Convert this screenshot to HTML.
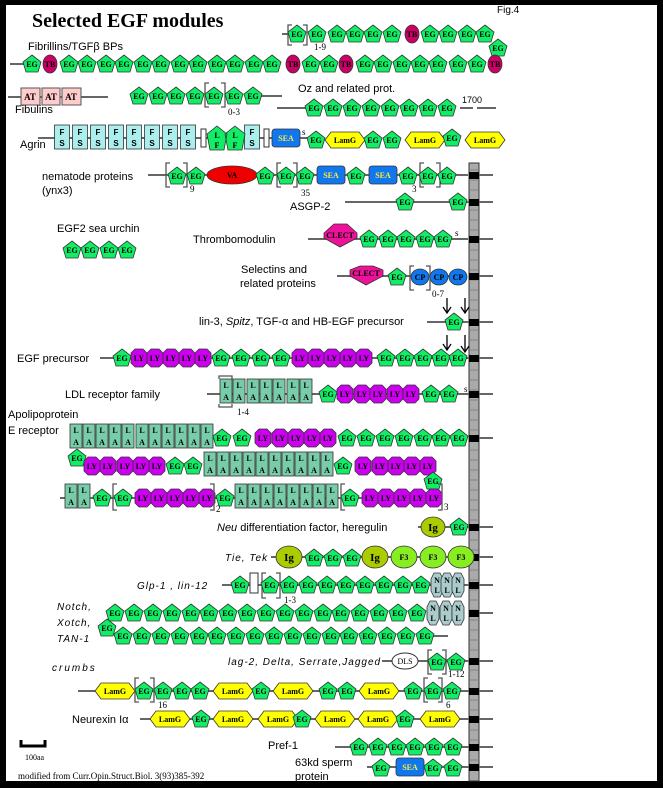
<!DOCTYPE html>
<html><head><meta charset="utf-8"><style>
html,body{margin:0;padding:0;background:#000;}
svg{display:block}
.m{font:bold 8px "Liberation Serif",serif;text-anchor:middle;fill:#000}
.l{font:11px "Liberation Sans",sans-serif;fill:#000}
.i{font:italic 10px "Liberation Sans",sans-serif;fill:#000;letter-spacing:1px}
.n{font:9px "Liberation Serif",serif;fill:#000}
.ln{stroke:#666;stroke-width:2;fill:none}
.br{stroke:#555;stroke-width:1.3;fill:none}
</style></head><body>
<svg width="663" height="788" viewBox="0 0 663 788" xmlns="http://www.w3.org/2000/svg">
<defs>
<path id="e" d="M0,-9L9,-2L6,8L-6,8L-9,-2Z" fill="#11ee66" stroke="#333" stroke-width="0.8"/>
<path id="y" d="M-4,-9L4,-9L8,-5L8,5L4,9L-4,9L-8,5L-8,-5Z" fill="#cc00ee" stroke="#333" stroke-width="0.8"/>
<rect id="a" x="-6" y="-12" width="12" height="24" fill="#77ccaa" stroke="#333" stroke-width="0.8"/>
<path id="g" d="M-20,0L-14,-8L14,-8L20,0L14,8L-14,8Z" fill="#ffff00" stroke="#333" stroke-width="0.8"/>
<ellipse id="t" rx="7" ry="9" fill="#cc0066" stroke="#333" stroke-width="0.8"/>
<rect id="s" x="-14" y="-9" width="28" height="18" rx="3" fill="#1177ee" stroke="#333" stroke-width="0.8"/>
<rect id="f" x="-7.5" y="-12" width="15" height="24" fill="#aaeeee" stroke="#333" stroke-width="0.8"/>
<path id="nl" d="M-3,-12L3,-12L6,-6L6,6L3,12L-3,12L-6,6L-6,-6Z" fill="#aacccc" stroke="#333" stroke-width="0.8"/>
</defs>
<rect x="6" y="5" width="651" height="776" fill="#fff"/>
<text x="32" y="27" style="font:bold 20px 'Liberation Serif',serif">Selected EGF modules</text>
<text x="497" y="13" class="l" style="font-size:10px">Fig.4</text>

<!-- membrane -->
<rect x="469" y="163" width="10" height="618" fill="#aaa" stroke="#333"/>
<g stroke="#777" stroke-width="0.7">
<path d="M469,170h10M469,180h10M469,190h10M469,200h10M469,210h10M469,220h10M469,230h10M469,240h10M469,250h10M469,260h10M469,270h10M469,280h10M469,290h10M469,300h10M469,310h10M469,320h10M469,330h10M469,340h10M469,350h10M469,360h10M469,370h10M469,380h10M469,390h10M469,400h10M469,410h10M469,420h10M469,430h10M469,440h10M469,450h10M469,460h10M469,470h10M469,480h10M469,490h10M469,500h10M469,510h10M469,520h10M469,530h10M469,540h10M469,550h10M469,560h10M469,570h10M469,580h10M469,590h10M469,600h10M469,610h10M469,620h10M469,630h10M469,640h10M469,650h10M469,660h10M469,670h10M469,680h10M469,690h10M469,700h10M469,710h10M469,720h10M469,730h10M469,740h10M469,750h10M469,760h10M469,770h10"/>
</g>
<g fill="#000">
<rect x="469" y="172" width="10" height="7"/><rect x="469" y="199" width="10" height="7"/><rect x="469" y="236" width="10" height="7"/><rect x="469" y="273" width="10" height="7"/><rect x="469" y="319" width="10" height="7"/><rect x="469" y="355" width="10" height="7"/><rect x="469" y="391" width="10" height="7"/><rect x="469" y="435" width="10" height="7"/><rect x="469" y="524" width="10" height="7"/><rect x="469" y="554" width="10" height="7"/><rect x="469" y="582" width="10" height="7"/><rect x="469" y="610" width="10" height="7"/><rect x="469" y="658" width="10" height="7"/><rect x="469" y="688" width="10" height="7"/><rect x="469" y="716" width="10" height="7"/><rect x="469" y="744" width="10" height="7"/><rect x="469" y="764" width="10" height="7"/>
</g>
<g class="ln">
<path d="M479,175h14M479,202h14M479,239h14M479,276h14M479,322h14M479,358h14M479,394h14M479,438h14M479,527h14M479,557h14M479,585h14M479,613h14M479,661h14M479,691h14M479,719h14M479,747h14M479,767h14"/>
<path d="M282,34h10M10,64h18M8,97h100M260,96h22M277,108h30M460,108h13M477,108h19M38,138h20M148,175h320M345,202h124M308,239h160M337,276h130M427,322h42M100,358h369M207,394h262M60,498h10M418,527h51M271,557h198M222,585h247M425,636h23M382,661h87M78,691h391M140,719h329M335,747h134M367,767h102"/>
</g>

<!-- Row1 fibrillins -->
<text x="28" y="50" class="l">Fibrillins/TGFβ BPs</text>
<path class="br" d="M292,25h-4v20h4M303,25h4v20h-4"/><text x="314" y="50" class="n">1-9</text>
<g>
<use href="#e" x="297" y="34"/><use href="#e" x="317" y="34"/><use href="#e" x="337" y="34"/><use href="#e" x="355" y="34"/><use href="#e" x="373" y="34"/><use href="#e" x="392" y="34"/><use href="#t" x="412" y="34"/><use href="#e" x="430" y="34"/><use href="#e" x="448" y="34"/><use href="#e" x="467" y="34"/><use href="#e" x="485" y="34"/><use href="#e" x="498" y="48"/>
</g>
<g class="m"><text x="297" y="37">EG</text><text x="317" y="37">EG</text><text x="337" y="37">EG</text><text x="355" y="37">EG</text><text x="373" y="37">EG</text><text x="392" y="37">EG</text><text x="412" y="37">TB</text><text x="430" y="37">EG</text><text x="448" y="37">EG</text><text x="467" y="37">EG</text><text x="485" y="37">EG</text><text x="498" y="51">EG</text></g>
<g>
<use href="#e" x="32" y="64"/><use href="#t" x="50" y="64"/><use href="#e" x="69" y="64"/><use href="#e" x="87" y="64"/><use href="#e" x="106" y="64"/><use href="#e" x="124" y="64"/><use href="#e" x="143" y="64"/><use href="#e" x="161" y="64"/><use href="#e" x="180" y="64"/><use href="#e" x="198" y="64"/><use href="#e" x="217" y="64"/><use href="#e" x="235" y="64"/><use href="#e" x="254" y="64"/><use href="#e" x="272" y="64"/><use href="#t" x="293" y="64"/><use href="#e" x="311" y="64"/><use href="#e" x="329" y="64"/><use href="#t" x="346" y="64"/><use href="#e" x="365" y="64"/><use href="#e" x="383" y="64"/><use href="#e" x="402" y="64"/><use href="#e" x="420" y="64"/><use href="#e" x="438" y="64"/><use href="#e" x="458" y="64"/><use href="#e" x="477" y="64"/><use href="#t" x="495" y="64"/>
</g>
<g class="m"><text x="32" y="67">EG</text><text x="50" y="67">TB</text><text x="69" y="67">EG</text><text x="87" y="67">EG</text><text x="106" y="67">EG</text><text x="124" y="67">EG</text><text x="143" y="67">EG</text><text x="161" y="67">EG</text><text x="180" y="67">EG</text><text x="198" y="67">EG</text><text x="217" y="67">EG</text><text x="235" y="67">EG</text><text x="254" y="67">EG</text><text x="272" y="67">EG</text><text x="293" y="67">TB</text><text x="311" y="67">EG</text><text x="329" y="67">EG</text><text x="346" y="67">TB</text><text x="365" y="67">EG</text><text x="383" y="67">EG</text><text x="402" y="67">EG</text><text x="420" y="67">EG</text><text x="438" y="67">EG</text><text x="458" y="67">EG</text><text x="477" y="67">EG</text><text x="495" y="67">TB</text></g>

<!-- Fibulins -->
<g fill="#ffcccc" stroke="#555"><rect x="21" y="88" width="19" height="17"/><rect x="42" y="88" width="18" height="17"/><rect x="62" y="88" width="19" height="17"/></g>
<g class="m" style="font-size:9px"><text x="30" y="100">AT</text><text x="51" y="100">AT</text><text x="71" y="100">AT</text></g>
<text x="15" y="113" class="l">Fibulins</text>
<path class="br" d="M209,83h-4v24h4M221,83h4v24h-4"/><text x="228" y="115" class="n">0-3</text>
<g><use href="#e" x="139" y="96"/><use href="#e" x="158" y="96"/><use href="#e" x="176" y="96"/><use href="#e" x="195" y="96"/><use href="#e" x="214" y="96"/><use href="#e" x="234" y="96"/><use href="#e" x="253" y="96"/></g>
<g class="m"><text x="139" y="99">EG</text><text x="158" y="99">EG</text><text x="176" y="99">EG</text><text x="195" y="99">EG</text><text x="214" y="99">EG</text><text x="234" y="99">EG</text><text x="253" y="99">EG</text></g>
<text x="298" y="92" class="l">Oz and related prot.</text>
<text x="462" y="103" class="n" style="font-family:'Liberation Sans',sans-serif">1700</text>
<g><use href="#e" x="314" y="108"/><use href="#e" x="333" y="108"/><use href="#e" x="352" y="108"/><use href="#e" x="371" y="108"/><use href="#e" x="390" y="108"/><use href="#e" x="409" y="108"/><use href="#e" x="428" y="108"/><use href="#e" x="447" y="108"/></g>
<g class="m"><text x="314" y="111">EG</text><text x="333" y="111">EG</text><text x="352" y="111">EG</text><text x="371" y="111">EG</text><text x="390" y="111">EG</text><text x="409" y="111">EG</text><text x="428" y="111">EG</text><text x="447" y="111">EG</text></g>

<!-- Agrin -->
<text x="20" y="148" class="l">Agrin</text>
<path class="ln" d="M55,138h260"/>
<g><use href="#f" x="62" y="137"/><use href="#f" x="80" y="137"/><use href="#f" x="98" y="137"/><use href="#f" x="116" y="137"/><use href="#f" x="134" y="137"/><use href="#f" x="152" y="137"/><use href="#f" x="170" y="137"/><use href="#f" x="188" y="137"/><use href="#f" x="252" y="137"/></g>
<g class="m" style="font-family:'Liberation Sans',sans-serif"><text x="62" y="135">F</text><text x="62" y="146">S</text><text x="80" y="135">F</text><text x="80" y="146">S</text><text x="98" y="135">F</text><text x="98" y="146">S</text><text x="116" y="135">F</text><text x="116" y="146">S</text><text x="134" y="135">F</text><text x="134" y="146">S</text><text x="152" y="135">F</text><text x="152" y="146">S</text><text x="170" y="135">F</text><text x="170" y="146">S</text><text x="188" y="135">F</text><text x="188" y="146">S</text><text x="252" y="135">F</text><text x="252" y="146">S</text></g>
<g fill="#fff" stroke="#333"><rect x="201" y="129" width="5" height="18"/><rect x="264" y="129" width="5" height="18"/></g>
<path d="M217,126L227,134L224,150L210,150L207,134Z M235,126L245,134L242,150L228,150L225,134Z" fill="#11ee66" stroke="#333" stroke-width="0.8"/>
<g class="m"><text x="217" y="138">L</text><text x="217" y="148">F</text><text x="235" y="138">L</text><text x="235" y="148">F</text></g>
<use href="#s" x="286" y="138"/><text x="286" y="141" class="m" style="fill:#ffee33">SEA</text>
<text x="302" y="135" class="n">s</text>
<g><use href="#e" x="316" y="140"/><use href="#g" x="345" y="140"/><use href="#e" x="373" y="140"/><use href="#e" x="392" y="140"/><use href="#g" x="425" y="140"/><use href="#e" x="452" y="138"/><use href="#g" x="485" y="140"/></g>
<g class="m"><text x="316" y="143">EG</text><text x="345" y="143">LamG</text><text x="373" y="143">EG</text><text x="392" y="143">EG</text><text x="425" y="143">LamG</text><text x="452" y="141">EG</text><text x="485" y="143">LamG</text></g>

<!-- nematode -->
<text x="42" y="180" class="l">nematode proteins</text><text x="42" y="194" class="l">(ynx3)</text>
<path class="br" d="M170,163h-4v24h4M183,163h4v24h-4M281,163h-4v24h4M293,163h4v24h-4M424,163h-4v24h4M436,163h4v24h-4"/>
<text x="190" y="192" class="n">9</text><text x="301" y="196" class="n">35</text><text x="412" y="192" class="n">3</text>
<ellipse cx="232" cy="175" rx="25" ry="9" fill="#ee0000" stroke="#333" stroke-width="0.8"/><text x="232" y="178" class="m">VA</text>
<use href="#s" x="331" y="175"/><text x="331" y="178" class="m" style="fill:#ffee33">SEA</text>
<use href="#s" x="383" y="175"/><text x="383" y="178" class="m" style="fill:#ffee33">SEA</text>
<g><use href="#e" x="177" y="176"/><use href="#e" x="196" y="176"/><use href="#e" x="265" y="176"/><use href="#e" x="286" y="176"/><use href="#e" x="305" y="176"/><use href="#e" x="356" y="176"/><use href="#e" x="408" y="176"/><use href="#e" x="428" y="176"/><use href="#e" x="447" y="176"/></g>
<g class="m"><text x="177" y="179">EG</text><text x="196" y="179">EG</text><text x="265" y="179">EG</text><text x="286" y="179">EG</text><text x="305" y="179">EG</text><text x="356" y="179">EG</text><text x="408" y="179">EG</text><text x="428" y="179">EG</text><text x="447" y="179">EG</text></g>
<text x="290" y="210" class="l">ASGP-2</text>
<use href="#e" x="405" y="202"/><use href="#e" x="458" y="202"/>
<g class="m"><text x="405" y="205">EG</text><text x="458" y="205">EG</text></g>

<text x="57" y="232" class="l">EGF2 sea urchin</text>
<g><use href="#e" x="72" y="250"/><use href="#e" x="90" y="250"/><use href="#e" x="109" y="250"/><use href="#e" x="127" y="250"/></g>
<g class="m"><text x="72" y="253">EG</text><text x="90" y="253">EG</text><text x="109" y="253">EG</text><text x="127" y="253">EG</text></g>

<text x="193" y="243" class="l">Thrombomodulin</text>
<path d="M324,233L334,224L347,224L357,233L357,238L340,247L324,238Z" fill="#ee1199" stroke="#333" stroke-width="0.8"/><text x="340" y="238" class="m">CLECT</text>
<g><use href="#e" x="369" y="239"/><use href="#e" x="388" y="239"/><use href="#e" x="406" y="239"/><use href="#e" x="425" y="239"/><use href="#e" x="443" y="239"/></g>
<g class="m"><text x="369" y="242">EG</text><text x="388" y="242">EG</text><text x="406" y="242">EG</text><text x="425" y="242">EG</text><text x="443" y="242">EG</text></g>
<text x="455" y="236" class="n">s</text>

<text x="241" y="273" class="l">Selectins and</text><text x="240" y="287" class="l">related proteins</text>
<path d="M350,270L360,266L373,266L383,270L383,276L366,285L350,276Z" fill="#ee1199" stroke="#333" stroke-width="0.8"/><text x="366" y="276" class="m">CLECT</text>
<use href="#e" x="397" y="277"/><text x="397" y="280" class="m">EG</text>
<g fill="#1177ee" stroke="#333" stroke-width="0.8"><ellipse cx="420" cy="277" rx="9" ry="8"/><ellipse cx="439" cy="277" rx="9" ry="8"/><ellipse cx="458" cy="277" rx="9" ry="8"/></g>
<g class="m"><text x="420" y="280">CP</text><text x="439" y="280">CP</text><text x="458" y="280">CP</text></g>
<path class="br" d="M414,266h-4v24h4M426,266h4v24h-4"/><text x="432" y="297" class="n">0-7</text>

<text x="199" y="325" class="l">lin-3, <tspan font-style="italic">Spitz</tspan>, TGF-α and HB-EGF precursor</text>
<use href="#e" x="454" y="322"/><text x="454" y="325" class="m">EG</text>
<g stroke="#000" stroke-width="1.3" fill="none"><path d="M447,298v14M443,307l4,6l4,-6M465,298v14M461,307l4,6l4,-6M447,335v14M443,344l4,6l4,-6M465,335v16M461,346l4,6l4,-6"/></g>

<!-- EGF precursor -->
<text x="17" y="362" class="l">EGF precursor</text>
<g><use href="#e" x="122" y="358"/><use href="#y" x="139" y="358"/><use href="#y" x="155" y="358"/><use href="#y" x="171" y="358"/><use href="#y" x="187" y="358"/><use href="#y" x="203" y="358"/><use href="#e" x="221" y="358"/><use href="#e" x="241" y="358"/><use href="#e" x="261" y="358"/><use href="#e" x="281" y="358"/><use href="#y" x="300" y="358"/><use href="#y" x="316" y="358"/><use href="#y" x="332" y="358"/><use href="#y" x="348" y="358"/><use href="#y" x="364" y="358"/><use href="#e" x="386" y="358"/><use href="#e" x="405" y="358"/><use href="#e" x="423" y="358"/><use href="#e" x="441" y="358"/><use href="#e" x="458" y="358"/></g>
<g class="m"><text x="122" y="361">EG</text><text x="139" y="361">LY</text><text x="155" y="361">LY</text><text x="171" y="361">LY</text><text x="187" y="361">LY</text><text x="203" y="361">LY</text><text x="221" y="361">EG</text><text x="241" y="361">EG</text><text x="261" y="361">EG</text><text x="281" y="361">EG</text><text x="300" y="361">LY</text><text x="316" y="361">LY</text><text x="332" y="361">LY</text><text x="348" y="361">LY</text><text x="364" y="361">LY</text><text x="386" y="361">EG</text><text x="405" y="361">EG</text><text x="423" y="361">EG</text><text x="441" y="361">EG</text><text x="458" y="361">EG</text></g>

<!-- LDL -->
<text x="65" y="398" class="l">LDL receptor family</text>
<g><use href="#a" x="226" y="391"/><use href="#a" x="239" y="391"/><use href="#a" x="253" y="391"/><use href="#a" x="266" y="391"/><use href="#a" x="279" y="391"/><use href="#a" x="293" y="391"/><use href="#a" x="306" y="391"/></g>
<g class="m"><text x="226" y="388">L</text><text x="226" y="400">A</text><text x="239" y="388">L</text><text x="239" y="400">A</text><text x="253" y="388">L</text><text x="253" y="400">A</text><text x="266" y="388">L</text><text x="266" y="400">A</text><text x="279" y="388">L</text><text x="279" y="400">A</text><text x="293" y="388">L</text><text x="293" y="400">A</text><text x="306" y="388">L</text><text x="306" y="400">A</text></g>
<path class="br" d="M219,379v-3h13v3M219,404v3h13v-3"/><text x="237" y="415" class="n">1-4</text>
<g><use href="#e" x="328" y="394"/><use href="#y" x="345" y="394"/><use href="#y" x="362" y="394"/><use href="#y" x="378" y="394"/><use href="#y" x="395" y="394"/><use href="#y" x="411" y="394"/><use href="#e" x="431" y="394"/><use href="#e" x="449" y="394"/></g>
<g class="m"><text x="328" y="397">EG</text><text x="345" y="397">LY</text><text x="362" y="397">LY</text><text x="378" y="397">LY</text><text x="395" y="397">LY</text><text x="411" y="397">LY</text><text x="431" y="397">EG</text><text x="449" y="397">EG</text></g>
<text x="464" y="392" class="n">s</text>

<!-- ApoE -->
<text x="8" y="418" class="l">Apolipoprotein</text><text x="8" y="434" class="l">E receptor</text>
<g><use href="#a" x="76" y="436"/><use href="#a" x="89" y="436"/><use href="#a" x="102" y="436"/><use href="#a" x="115" y="436"/><use href="#a" x="128" y="436"/><use href="#a" x="142" y="436"/><use href="#a" x="155" y="436"/><use href="#a" x="168" y="436"/><use href="#a" x="181" y="436"/><use href="#a" x="194" y="436"/><use href="#a" x="207" y="436"/></g>
<g class="m"><text x="76" y="433">L</text><text x="76" y="445">A</text><text x="89" y="433">L</text><text x="89" y="445">A</text><text x="102" y="433">L</text><text x="102" y="445">A</text><text x="115" y="433">L</text><text x="115" y="445">A</text><text x="128" y="433">L</text><text x="128" y="445">A</text><text x="142" y="433">L</text><text x="142" y="445">A</text><text x="155" y="433">L</text><text x="155" y="445">A</text><text x="168" y="433">L</text><text x="168" y="445">A</text><text x="181" y="433">L</text><text x="181" y="445">A</text><text x="194" y="433">L</text><text x="194" y="445">A</text><text x="207" y="433">L</text><text x="207" y="445">A</text></g>
<g><use href="#e" x="222" y="438"/><use href="#e" x="242" y="438"/><use href="#y" x="263" y="438"/><use href="#y" x="280" y="438"/><use href="#y" x="296" y="438"/><use href="#y" x="312" y="438"/><use href="#y" x="328" y="438"/><use href="#e" x="347" y="438"/><use href="#e" x="366" y="438"/><use href="#e" x="385" y="438"/><use href="#e" x="404" y="438"/><use href="#e" x="423" y="438"/><use href="#e" x="441" y="438"/><use href="#e" x="459" y="438"/><use href="#e" x="77" y="458"/></g>
<g class="m"><text x="222" y="441">EG</text><text x="242" y="441">EG</text><text x="263" y="441">LY</text><text x="280" y="441">LY</text><text x="296" y="441">LY</text><text x="312" y="441">LY</text><text x="328" y="441">LY</text><text x="347" y="441">EG</text><text x="366" y="441">EG</text><text x="385" y="441">EG</text><text x="404" y="441">EG</text><text x="423" y="441">EG</text><text x="441" y="441">EG</text><text x="459" y="441">EG</text><text x="77" y="461">EG</text></g>
<g><use href="#y" x="92" y="466"/><use href="#y" x="108" y="466"/><use href="#y" x="125" y="466"/><use href="#y" x="141" y="466"/><use href="#y" x="157" y="466"/><use href="#e" x="175" y="466"/><use href="#e" x="193" y="466"/><use href="#e" x="343" y="466"/><use href="#y" x="363" y="466"/><use href="#y" x="380" y="466"/><use href="#y" x="396" y="466"/><use href="#y" x="412" y="466"/><use href="#y" x="428" y="466"/><use href="#e" x="433" y="481"/></g>
<g class="m"><text x="92" y="469">LY</text><text x="108" y="469">LY</text><text x="125" y="469">LY</text><text x="141" y="469">LY</text><text x="157" y="469">LY</text><text x="175" y="469">EG</text><text x="193" y="469">EG</text><text x="343" y="469">EG</text><text x="363" y="469">LY</text><text x="380" y="469">LY</text><text x="396" y="469">LY</text><text x="412" y="469">LY</text><text x="428" y="469">LY</text><text x="433" y="484">EG</text></g>
<g><use href="#a" x="210" y="464"/><use href="#a" x="223" y="464"/><use href="#a" x="236" y="464"/><use href="#a" x="249" y="464"/><use href="#a" x="262" y="464"/><use href="#a" x="275" y="464"/><use href="#a" x="288" y="464"/><use href="#a" x="301" y="464"/><use href="#a" x="314" y="464"/><use href="#a" x="327" y="464"/></g>
<g class="m"><text x="210" y="461">L</text><text x="210" y="473">A</text><text x="223" y="461">L</text><text x="223" y="473">A</text><text x="236" y="461">L</text><text x="236" y="473">A</text><text x="249" y="461">L</text><text x="249" y="473">A</text><text x="262" y="461">L</text><text x="262" y="473">A</text><text x="275" y="461">L</text><text x="275" y="473">A</text><text x="288" y="461">L</text><text x="288" y="473">A</text><text x="301" y="461">L</text><text x="301" y="473">A</text><text x="314" y="461">L</text><text x="314" y="473">A</text><text x="327" y="461">L</text><text x="327" y="473">A</text></g>
<path class="ln" d="M80,498h350"/>
<g><use href="#a" x="71" y="496"/><use href="#a" x="84" y="496"/><use href="#a" x="241" y="496"/><use href="#a" x="254" y="496"/><use href="#a" x="267" y="496"/><use href="#a" x="280" y="496"/><use href="#a" x="293" y="496"/><use href="#a" x="306" y="496"/><use href="#a" x="319" y="496"/><use href="#a" x="332" y="496"/></g>
<g class="m"><text x="71" y="493">L</text><text x="71" y="505">A</text><text x="84" y="493">L</text><text x="84" y="505">A</text><text x="241" y="493">L</text><text x="241" y="505">A</text><text x="254" y="493">L</text><text x="254" y="505">A</text><text x="267" y="493">L</text><text x="267" y="505">A</text><text x="280" y="493">L</text><text x="280" y="505">A</text><text x="293" y="493">L</text><text x="293" y="505">A</text><text x="306" y="493">L</text><text x="306" y="505">A</text><text x="319" y="493">L</text><text x="319" y="505">A</text><text x="332" y="493">L</text><text x="332" y="505">A</text></g>
<g><use href="#e" x="102" y="498"/><use href="#e" x="123" y="498"/><use href="#y" x="143" y="498"/><use href="#y" x="159" y="498"/><use href="#y" x="175" y="498"/><use href="#y" x="191" y="498"/><use href="#y" x="207" y="498"/><use href="#e" x="225" y="498"/><use href="#e" x="350" y="498"/><use href="#y" x="370" y="498"/><use href="#y" x="386" y="498"/><use href="#y" x="402" y="498"/><use href="#y" x="418" y="498"/><use href="#y" x="434" y="498"/></g>
<g class="m"><text x="102" y="501">EG</text><text x="123" y="501">EG</text><text x="143" y="501">LY</text><text x="159" y="501">LY</text><text x="175" y="501">LY</text><text x="191" y="501">LY</text><text x="207" y="501">LY</text><text x="225" y="501">EG</text><text x="350" y="501">EG</text><text x="370" y="501">LY</text><text x="386" y="501">LY</text><text x="402" y="501">LY</text><text x="418" y="501">LY</text><text x="434" y="501">LY</text></g>
<path class="br" d="M117,484h-4v26h4M210,484h4v26h-4M345,484h-4v26h4M438,484h4v26h-4"/>
<text x="216" y="512" class="n">2</text><text x="444" y="510" class="n">3</text>

<!-- Neu -->
<text x="217" y="531" class="l"><tspan font-style="italic">Neu</tspan> differentiation factor, heregulin</text>
<ellipse cx="433" cy="527" rx="12" ry="10" fill="#aacc00" stroke="#333" stroke-width="0.8"/><text x="433" y="531" class="m" style="font-size:11px">Ig</text>
<use href="#e" x="459" y="527"/><text x="459" y="530" class="m">EG</text>

<text x="225" y="561" class="i">Tie, Tek</text>
<g stroke="#333" stroke-width="0.8"><ellipse cx="289" cy="557" rx="13" ry="11" fill="#aacc00"/><ellipse cx="375" cy="557" rx="13" ry="11" fill="#aacc00"/><ellipse cx="404" cy="557" rx="13" ry="11" fill="#88ee22"/><ellipse cx="433" cy="557" rx="13" ry="11" fill="#88ee22"/><ellipse cx="461" cy="557" rx="13" ry="11" fill="#88ee22"/></g>
<g><use href="#e" x="314" y="558"/><use href="#e" x="333" y="558"/><use href="#e" x="352" y="558"/></g>
<g class="m"><text x="289" y="561" style="font-size:11px">Ig</text><text x="375" y="561" style="font-size:11px">Ig</text><text x="404" y="560">F3</text><text x="433" y="560">F3</text><text x="461" y="560">F3</text><text x="314" y="561">EG</text><text x="333" y="561">EG</text><text x="352" y="561">EG</text></g>

<text x="137" y="589" class="i">Glp-1 , lin-12</text>
<rect x="250" y="573" width="8" height="20" fill="#fff" stroke="#333"/>
<path class="br" d="M266,573h-4v25h4M276,573h4v25h-4"/><text x="284" y="603" class="n">1-3</text>
<g><use href="#e" x="240" y="585"/><use href="#e" x="270" y="585"/><use href="#e" x="289" y="585"/><use href="#e" x="308" y="585"/><use href="#e" x="327" y="585"/><use href="#e" x="346" y="585"/><use href="#e" x="365" y="585"/><use href="#e" x="384" y="585"/><use href="#e" x="403" y="585"/><use href="#e" x="421" y="585"/><use href="#nl" x="437" y="585"/><use href="#nl" x="447" y="585"/><use href="#nl" x="458" y="585"/></g>
<g class="m"><text x="240" y="588">EG</text><text x="270" y="588">EG</text><text x="289" y="588">EG</text><text x="308" y="588">EG</text><text x="327" y="588">EG</text><text x="346" y="588">EG</text><text x="365" y="588">EG</text><text x="384" y="588">EG</text><text x="403" y="588">EG</text><text x="421" y="588">EG</text><text x="437" y="583">N</text><text x="437" y="593">L</text><text x="447" y="583">N</text><text x="447" y="593">L</text><text x="458" y="583">N</text><text x="458" y="593">L</text></g>

<text x="57" y="610" class="i">Notch,</text><text x="57" y="626" class="i">Xotch,</text><text x="57" y="642" class="i">TAN-1</text>
<g><use href="#e" x="115" y="613"/><use href="#e" x="134" y="613"/><use href="#e" x="153" y="613"/><use href="#e" x="172" y="613"/><use href="#e" x="191" y="613"/><use href="#e" x="209" y="613"/><use href="#e" x="228" y="613"/><use href="#e" x="247" y="613"/><use href="#e" x="266" y="613"/><use href="#e" x="285" y="613"/><use href="#e" x="304" y="613"/><use href="#e" x="323" y="613"/><use href="#e" x="341" y="613"/><use href="#e" x="360" y="613"/><use href="#e" x="379" y="613"/><use href="#e" x="398" y="613"/><use href="#e" x="417" y="613"/><use href="#nl" x="433" y="613"/><use href="#nl" x="446" y="613"/><use href="#nl" x="458" y="613"/><use href="#e" x="107" y="628"/></g>
<g class="m"><text x="115" y="616">EG</text><text x="134" y="616">EG</text><text x="153" y="616">EG</text><text x="172" y="616">EG</text><text x="191" y="616">EG</text><text x="209" y="616">EG</text><text x="228" y="616">EG</text><text x="247" y="616">EG</text><text x="266" y="616">EG</text><text x="285" y="616">EG</text><text x="304" y="616">EG</text><text x="323" y="616">EG</text><text x="341" y="616">EG</text><text x="360" y="616">EG</text><text x="379" y="616">EG</text><text x="398" y="616">EG</text><text x="417" y="616">EG</text><text x="433" y="611">N</text><text x="433" y="621">L</text><text x="446" y="611">N</text><text x="446" y="621">L</text><text x="458" y="611">N</text><text x="458" y="621">L</text><text x="107" y="631">EG</text></g>
<g><use href="#e" x="123" y="636"/><use href="#e" x="142" y="636"/><use href="#e" x="161" y="636"/><use href="#e" x="180" y="636"/><use href="#e" x="199" y="636"/><use href="#e" x="217" y="636"/><use href="#e" x="236" y="636"/><use href="#e" x="255" y="636"/><use href="#e" x="274" y="636"/><use href="#e" x="293" y="636"/><use href="#e" x="312" y="636"/><use href="#e" x="331" y="636"/><use href="#e" x="349" y="636"/><use href="#e" x="368" y="636"/><use href="#e" x="387" y="636"/><use href="#e" x="406" y="636"/><use href="#e" x="425" y="636"/></g>
<g class="m"><text x="123" y="639">EG</text><text x="142" y="639">EG</text><text x="161" y="639">EG</text><text x="180" y="639">EG</text><text x="199" y="639">EG</text><text x="217" y="639">EG</text><text x="236" y="639">EG</text><text x="255" y="639">EG</text><text x="274" y="639">EG</text><text x="293" y="639">EG</text><text x="312" y="639">EG</text><text x="331" y="639">EG</text><text x="349" y="639">EG</text><text x="368" y="639">EG</text><text x="387" y="639">EG</text><text x="406" y="639">EG</text><text x="425" y="639">EG</text></g>

<!-- lag-2 -->
<text x="228" y="665" class="i">lag-2, Delta, Serrate,Jagged</text>
<ellipse cx="405" cy="661" rx="13" ry="8" fill="#fff" stroke="#333"/><text x="405" y="664" class="m" style="font-weight:normal">DLS</text>
<path class="br" d="M432,650h-4v24h4M442,650h4v24h-4"/><text x="448" y="677" class="n">1-12</text>
<use href="#e" x="437" y="662"/><use href="#e" x="456" y="662"/>
<g class="m"><text x="437" y="665">EG</text><text x="456" y="665">EG</text></g>

<text x="52" y="671" class="i" style="letter-spacing:2px">crumbs</text>
<g><use href="#g" x="115" y="691"/><use href="#e" x="144" y="691"/><use href="#e" x="163" y="691"/><use href="#e" x="182" y="691"/><use href="#e" x="200" y="691"/><use href="#g" x="233" y="691"/><use href="#e" x="261" y="691"/><use href="#g" x="293" y="691"/><use href="#e" x="328" y="691"/><use href="#e" x="347" y="691"/><use href="#g" x="379" y="691"/><use href="#e" x="413" y="691"/><use href="#e" x="433" y="691"/><use href="#e" x="452" y="691"/></g>
<g class="m"><text x="115" y="694">LamG</text><text x="144" y="694">EG</text><text x="163" y="694">EG</text><text x="182" y="694">EG</text><text x="200" y="694">EG</text><text x="233" y="694">LamG</text><text x="261" y="694">EG</text><text x="293" y="694">LamG</text><text x="328" y="694">EG</text><text x="347" y="694">EG</text><text x="379" y="694">LamG</text><text x="413" y="694">EG</text><text x="433" y="694">EG</text><text x="452" y="694">EG</text></g>
<path class="br" d="M139,678h-4v24h4M150,678h4v24h-4M428,678h-4v24h4M438,678h4v24h-4"/>
<text x="158" y="708" class="n">16</text><text x="446" y="708" class="n">6</text>

<text x="72" y="723" class="l">Neurexin Iα</text>
<g><use href="#g" x="170" y="719"/><use href="#e" x="201" y="719"/><use href="#g" x="233" y="719"/><use href="#g" x="278" y="719"/><use href="#e" x="302" y="719"/><use href="#g" x="335" y="719"/><use href="#g" x="378" y="719"/><use href="#e" x="405" y="719"/><use href="#g" x="440" y="719"/></g>
<g class="m"><text x="170" y="722">LamG</text><text x="201" y="722">EG</text><text x="233" y="722">LamG</text><text x="278" y="722">LamG</text><text x="302" y="722">EG</text><text x="335" y="722">LamG</text><text x="378" y="722">LamG</text><text x="405" y="722">EG</text><text x="440" y="722">LamG</text></g>

<path d="M21,740v6h24v-6" fill="none" stroke="#000" stroke-width="3"/>
<text x="25" y="760" class="n" style="font-size:8px">100aa</text>
<text x="18" y="779" class="n">modified  from Curr.Opin.Struct.Biol. 3(93)385-392</text>

<text x="268" y="749" class="l">Pref-1</text>
<g><use href="#e" x="359" y="747"/><use href="#e" x="378" y="747"/><use href="#e" x="397" y="747"/><use href="#e" x="415" y="747"/><use href="#e" x="434" y="747"/><use href="#e" x="453" y="747"/></g>
<g class="m"><text x="359" y="750">EG</text><text x="378" y="750">EG</text><text x="397" y="750">EG</text><text x="415" y="750">EG</text><text x="434" y="750">EG</text><text x="453" y="750">EG</text></g>

<text x="295" y="766" class="l">63kd sperm</text><text x="295" y="780" class="l">protein</text>
<use href="#e" x="381" y="768"/><use href="#s" x="410" y="767"/><use href="#e" x="433" y="768"/><use href="#e" x="453" y="768"/>
<g class="m"><text x="381" y="771">EG</text><text x="410" y="770" style="fill:#ffee33">SEA</text><text x="433" y="771">EG</text><text x="453" y="771">EG</text></g>
</svg>
</body></html>
